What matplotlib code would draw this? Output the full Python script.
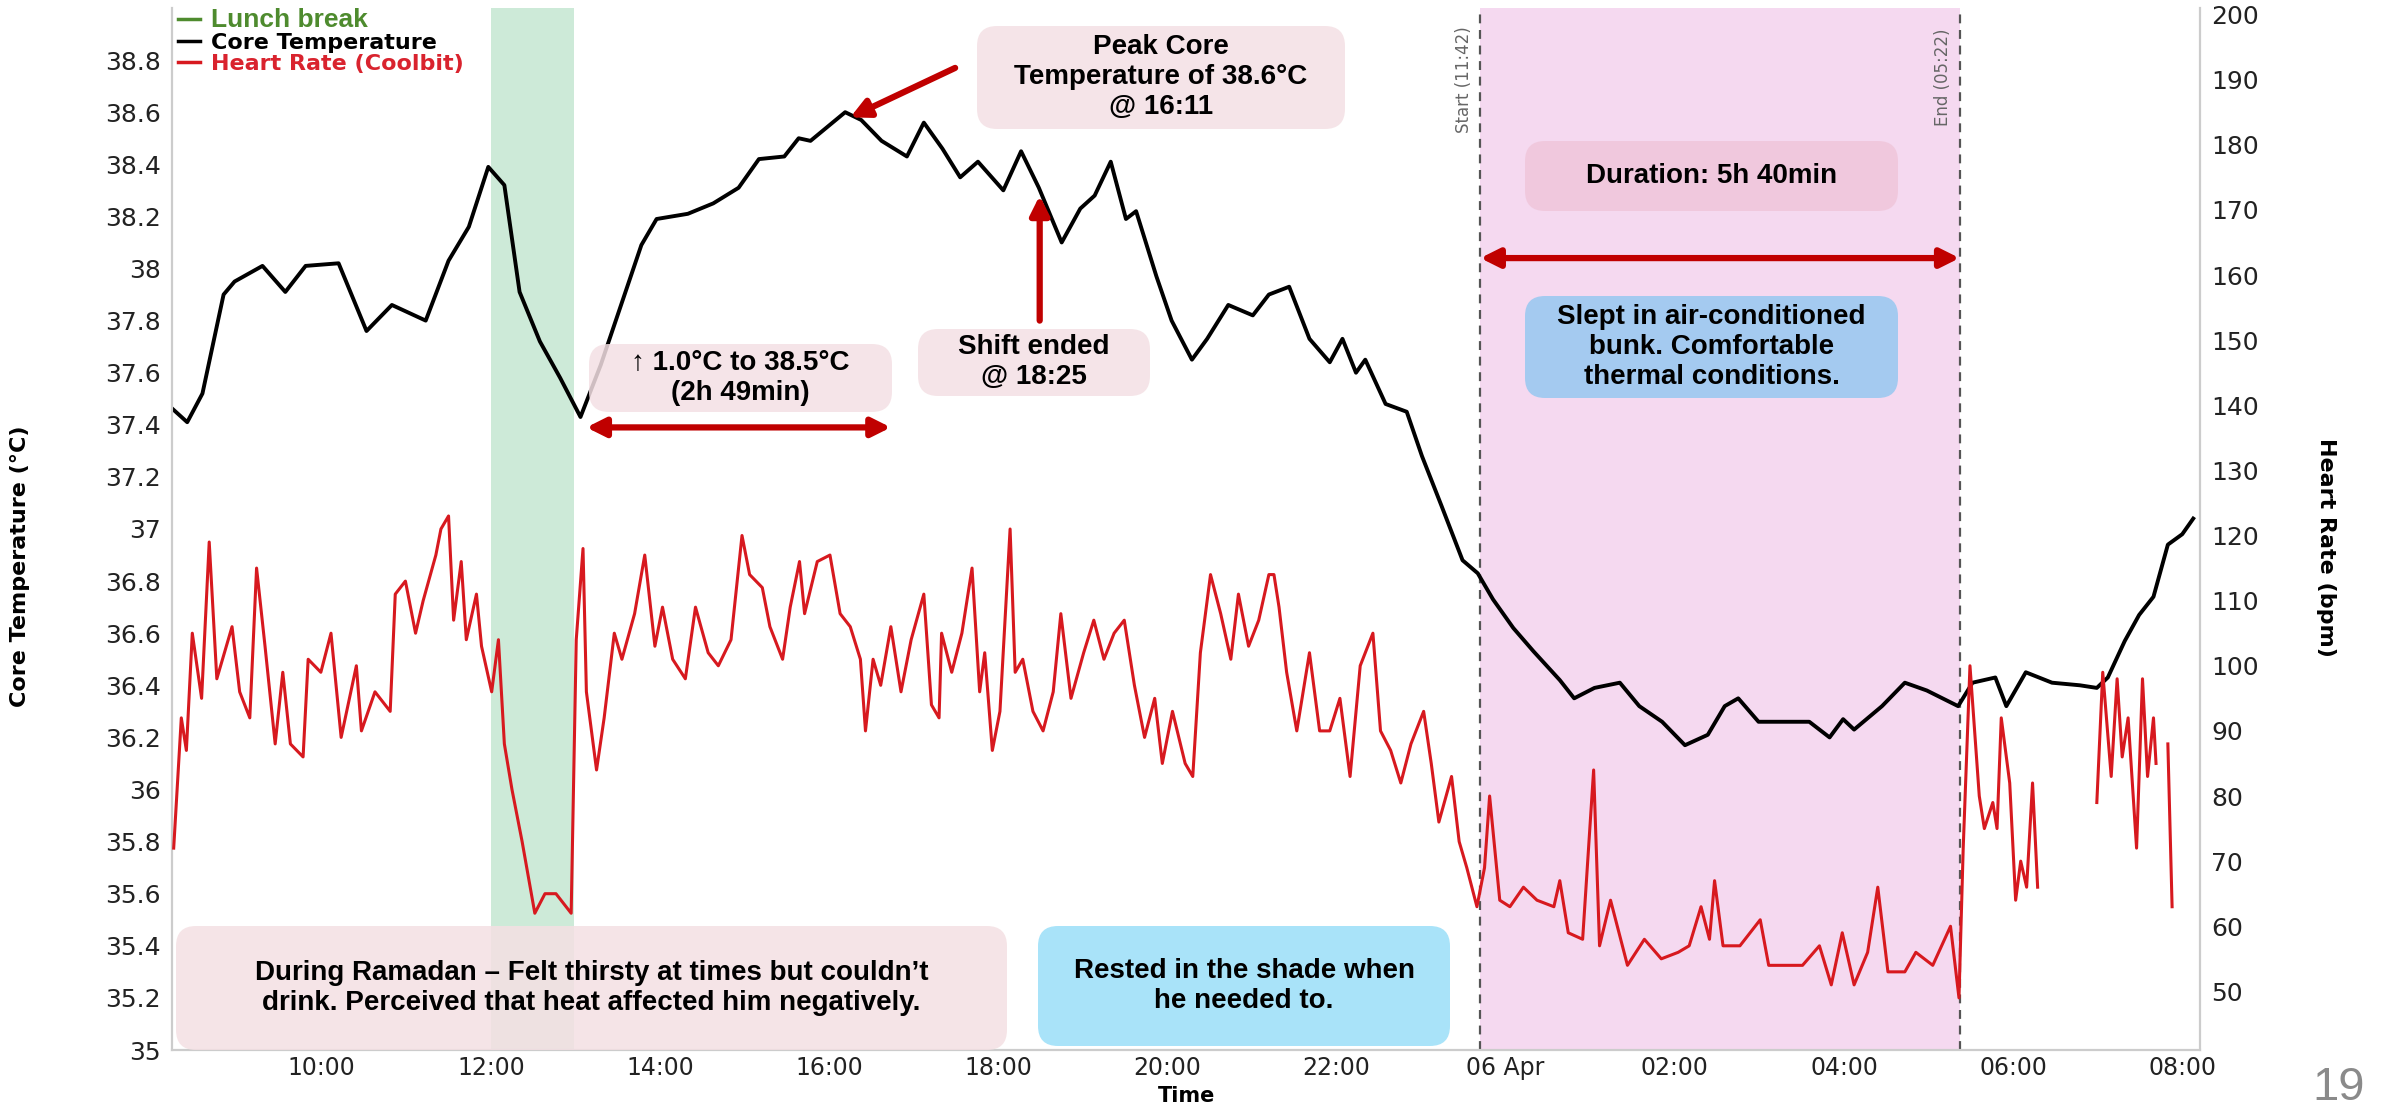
import matplotlib.pyplot as plt
import numpy as np
from matplotlib import font_manager
from matplotlib.lines import Line2D
from matplotlib.patches import FancyBboxPatch
from matplotlib.transforms import IdentityTransform

# ---- data (hours since midnight of 05 Apr; 24+ = 06 Apr) ----
core_t = [8.24, 8.41, 8.59, 8.84, 8.97, 9.30, 9.57, 9.81, 10.20, 10.53, 10.83, 11.23,
          11.50, 11.74, 11.97, 12.16, 12.34, 12.58, 12.82, 13.06, 13.30, 13.54, 13.78,
          13.96, 14.33, 14.63, 14.93, 15.17, 15.47, 15.64, 15.78, 16.19, 16.38, 16.62,
          16.92, 17.12, 17.34, 17.55, 17.76, 18.06, 18.27, 18.48, 18.75, 18.97, 19.14,
          19.33, 19.51, 19.63, 19.87, 20.05, 20.29, 20.47, 20.72, 21.01, 21.20, 21.44,
          21.68, 21.92, 22.07, 22.23, 22.34, 22.58, 22.83, 23.01, 23.24, 23.49, 23.67,
          23.85, 24.09, 24.33, 24.64, 24.81, 25.05, 25.35, 25.58, 25.85, 26.12, 26.39,
          26.59, 26.75, 26.99, 27.25, 27.59, 27.83, 27.99, 28.12, 28.45, 28.72, 28.98,
          29.35, 29.52, 29.79, 29.92, 30.15, 30.46, 30.79, 30.99, 31.12, 31.32, 31.49,
          31.66, 31.83, 32.00, 32.13]
core_temp = [37.46, 37.41, 37.52, 37.90, 37.95, 38.01, 37.91, 38.01, 38.02, 37.76, 37.86, 37.80,
             38.03, 38.16, 38.39, 38.32, 37.91, 37.72, 37.58, 37.43, 37.63, 37.86, 38.09,
             38.19, 38.21, 38.25, 38.31, 38.42, 38.43, 38.50, 38.49, 38.60, 38.57, 38.49,
             38.43, 38.56, 38.46, 38.35, 38.41, 38.30, 38.45, 38.31, 38.10, 38.23, 38.28,
             38.41, 38.19, 38.22, 37.97, 37.80, 37.65, 37.73, 37.86, 37.82, 37.90, 37.93,
             37.73, 37.64, 37.73, 37.60, 37.65, 37.48, 37.45, 37.28, 37.09, 36.88, 36.83,
             36.73, 36.62, 36.53, 36.42, 36.35, 36.39, 36.41, 36.32, 36.26, 36.17, 36.21,
             36.32, 36.35, 36.26, 36.26, 36.26, 36.20, 36.27, 36.23, 36.32, 36.41, 36.38,
             36.32, 36.41, 36.43, 36.32, 36.45, 36.41, 36.40, 36.39, 36.43, 36.57, 36.67,
             36.74, 36.94, 36.98, 37.04]

hr_t = [8.25, 8.29, 8.34, 8.40, 8.47, 8.58, 8.67, 8.76, 8.85, 8.94, 9.03, 9.15, 9.23, 9.33,
        9.45, 9.54, 9.63, 9.78, 9.84, 9.99, 10.11, 10.23, 10.41, 10.47, 10.63, 10.81, 10.87,
        10.99, 11.11, 11.20, 11.35, 11.41, 11.50, 11.56, 11.65, 11.71, 11.83, 11.89, 12.01,
        12.09, 12.16, 12.25, 12.37, 12.52, 12.64, 12.77, 12.95, 13.01, 13.09, 13.13, 13.25,
        13.34, 13.46, 13.55, 13.70, 13.82, 13.94, 14.03, 14.15, 14.30, 14.42, 14.57, 14.69,
        14.84, 14.97, 15.06, 15.21, 15.30, 15.45, 15.54, 15.65, 15.71, 15.86, 16.01, 16.13,
        16.25, 16.37, 16.43, 16.52, 16.61, 16.73, 16.85, 16.97, 17.12, 17.21, 17.30, 17.33,
        17.45, 17.57, 17.69, 17.78, 17.84, 17.93, 18.02, 18.14, 18.20, 18.29, 18.41, 18.53,
        18.65, 18.74, 18.86, 19.01, 19.13, 19.25, 19.37, 19.49, 19.61, 19.73, 19.85, 19.94,
        20.06, 20.21, 20.30, 20.39, 20.51, 20.63, 20.75, 20.84, 20.96, 21.08, 21.20, 21.26,
        21.32, 21.41, 21.53, 21.68, 21.80, 21.92, 22.04, 22.16, 22.28, 22.43, 22.52, 22.64,
        22.76, 22.88, 23.03, 23.12, 23.21, 23.36, 23.45, 23.54, 23.66, 23.75, 23.81, 23.93,
        24.05, 24.21, 24.37, 24.57, 24.64, 24.74, 24.91, 25.04, 25.11, 25.24, 25.44, 25.64,
        25.84, 26.04, 26.17, 26.31, 26.41, 26.47, 26.57, 26.77, 27.01, 27.11, 27.31, 27.51,
        27.71, 27.85, 27.98, 28.12, 28.28, 28.40, 28.52, 28.72, 28.85, 29.05, 29.26, 29.36,
        29.41, 29.49, 29.60, 29.66, 29.76, 29.81, 29.86, 29.96, 30.03, 30.09, 30.16, 30.23,
        30.29, 30.30, 30.98, 30.99, 31.06, 31.16, 31.23, 31.29, 31.36, 31.46, 31.53, 31.59,
        31.66, 31.69, 31.70, 31.82, 31.83, 31.88]
hr_bpm = [72, 81, 92, 87, 105, 95, 119, 98, 102, 106, 96, 92, 115, 103,
          88, 99, 88, 86, 101, 99, 105, 89, 100, 90, 96, 93, 111,
          113, 105, 110, 117, 121, 123, 107, 116, 104, 111, 103, 96,
          104, 88, 81, 73, 62, 65, 65, 62, 104, 118, 96, 84,
          92, 105, 101, 108, 117, 103, 109, 101, 98, 109, 102, 100,
          104, 120, 114, 112, 106, 101, 109, 116, 108, 116, 117, 108,
          106, 101, 90, 101, 97, 106, 96, 104, 111, 94, 92, 105,
          99, 105, 115, 96, 102, 87, 93, 121, 99, 101, 93, 90,
          96, 108, 95, 102, 107, 101, 105, 107, 97, 89, 95, 85,
          93, 85, 83, 102, 114, 108, 101, 111, 103, 107, 114, 114,
          109, 99, 90, 102, 90, 90, 95, 83, 100, 105, 90, 87,
          82, 88, 93, 85, 76, 83, 73, 69, 63, 69, 80, 64,
          63, 66, 64, 63, 67, 59, 58, 84, 57, 64, 54, 58,
          55, 56, 57, 63, 58, 67, 57, 57, 61, 54, 54, 54,
          57, 51, 59, 51, 56, 66, 53, 53, 56, 54, 60, 49,
          72, 100, 80, 75, 79, 75, 92, 82, 64, 70, 66, 82,
          66, np.nan, np.nan, 79, 99, 83, 98, 86, 92, 72, 98, 83,
          92, 85, np.nan, np.nan, 88, 63]

tick_hours = [10, 12, 14, 16, 18, 20, 22, 24, 26, 28, 30, 32]
tick_names = ["10:00", "12:00", "14:00", "16:00", "18:00", "20:00", "22:00",
              "06 Apr", "02:00", "04:00", "06:00", "08:00"]

lunch_start, lunch_end = 12.0, 12.98
sleep_start, sleep_end = 23.70, 29.367

# ---- fonts ----
names = {f.name for f in font_manager.fontManager.ttflist}
NARROW = "Liberation Sans Narrow" if "Liberation Sans Narrow" in names else "Liberation Sans"
plt.rcParams["font.family"] = ["DejaVu Sans"]

W, H = 2386, 1107
fig = plt.figure(figsize=(W / 100, H / 100), dpi=100)
ax = fig.add_axes([172 / W, 1 - 1050 / H, (2200 - 172) / W, (1050 - 8) / H])
ax2 = ax.twinx()

RED = "#D7191F"
DARKRED = "#C00000"

ax.axvspan(lunch_start, lunch_end, color="#CDEAD8", lw=0, zorder=0)
ax.axvspan(sleep_start, sleep_end, color="#F5D9F0", lw=0, zorder=0)
for xv in (sleep_start, sleep_end):
    ax.axvline(xv, color="#555555", lw=1.6, ls=(0, (4, 3)), zorder=1)

ax.plot(core_t, core_temp, color="black", lw=2.8, zorder=3)
ax2.plot(hr_t, hr_bpm, color=RED, lw=2.2, zorder=3)

ax.set_xlim(8.23, 32.21)
ax.set_ylim(35, 39)
ax2.set_ylim(41, 201)

ax.set_xticks(tick_hours)
ax.set_xticklabels(tick_names)
ax.set_yticks(np.arange(35, 38.81, 0.2))
ax.set_yticklabels([f"{round(v, 1):g}" for v in np.arange(35, 38.81, 0.2)])
ax2.set_yticks(range(50, 201, 10))

for a in (ax, ax2):
    a.tick_params(axis="y", length=0, labelsize=18, colors="#222222", pad=8)
    for s in a.spines.values():
        s.set_color("#CCCCCC")
        s.set_linewidth(1.5)
    a.spines["top"].set_visible(False)
ax.tick_params(axis="x", length=0, labelsize=17, colors="#222222", pad=4)

ax.set_ylabel("Core Temperature (°C)", fontsize=16, fontweight="bold")
ax.yaxis.set_label_coords(-0.070, 0.464)
ax2.set_ylabel("Heart Rate (bpm)", fontsize=16, fontweight="bold", rotation=270)
ax2.yaxis.set_label_coords(1.067, 0.482)
fig.text(1187 / W, 1 - 1102 / H, "Time", ha="center", va="baseline",
         fontsize=15, fontweight="bold")

# legend
handles = [Line2D([], [], color="#4E8B2E", lw=2.5),
           Line2D([], [], color="black", lw=2.5),
           Line2D([], [], color=RED, lw=2.5)]
leg = ax2.legend(handles, ["Lunch break", "Core Temperature", "Heart Rate (Coolbit)"],
                 loc="upper left", bbox_to_anchor=(0.003, 1.0), frameon=False,
                 prop={"size": 16, "weight": "bold"}, handlelength=1.0,
                 handletextpad=0.5, labelspacing=0.05, borderaxespad=0, borderpad=0,
                 labelcolor=["#4E8B2E", "black", "#D9232E"])
leg.get_texts()[0].set_fontsize(19)
leg.get_texts()[0].set_family(NARROW)


# ---- annotation boxes (figure pixels, top-left origin) ----
def note(x0, y0, x1, y1, text, fc, size=20):
    box = FancyBboxPatch((x0, H - y1), x1 - x0, y1 - y0,
                         boxstyle="round,pad=0,rounding_size=20",
                         transform=IdentityTransform(), fc=fc, ec="none", alpha=0.85, zorder=5)
    fig.add_artist(box)
    fig.text((x0 + x1) / 2 / W, 1 - (y0 + y1) / 2 / H, text, ha="center", va="center",
             fontsize=size, fontweight="bold", family=[NARROW, "DejaVu Sans"],
             linespacing=1.2, zorder=6)


note(977, 26, 1345, 129, "Peak Core\nTemperature of 38.6°C\n@ 16:11", "#F4E0E4")
note(589, 344, 892, 412, "↑ 1.0°C to 38.5°C\n(2h 49min)", "#F4E0E4")
note(918, 329, 1150, 396, "Shift ended\n@ 18:25", "#F4E0E4")
note(1525, 141, 1898, 211, "Duration: 5h 40min", "#F0C6DA")
note(1525, 296, 1898, 398, "Slept in air-conditioned\nbunk. Comfortable\nthermal conditions.",
     "#96C8F0")
note(176, 926, 1007, 1050,
     "During Ramadan – Felt thirsty at times but couldn’t\ndrink. Perceived that heat affected him negatively.",
     "#F4E0E3")
note(1038, 926, 1450, 1046, "Rested in the shade when\nhe needed to.", "#9ADFF8")

arrow = dict(color=DARKRED, lw=4.5, mutation_scale=28, shrinkA=0, shrinkB=0)
ax.annotate("", xy=(16.25, 38.58), xytext=(17.49, 38.77),
            arrowprops=dict(arrowstyle="-|>", **arrow), zorder=7)
ax.annotate("", xy=(13.13, 37.39), xytext=(16.73, 37.39),
            arrowprops=dict(arrowstyle="<|-|>", **arrow), zorder=7)
ax.annotate("", xy=(18.49, 38.28), xytext=(18.49, 37.80),
            arrowprops=dict(arrowstyle="-|>", **arrow), zorder=7)
ax.annotate("", xy=(sleep_start, 38.04), xytext=(sleep_end, 38.04),
            arrowprops=dict(arrowstyle="<|-|>", **arrow), zorder=7)

fig.text(1464 / W, 1 - 80 / H, "Start (11:42)", rotation=90, ha="center", va="center",
         fontsize=12, color="#666666")
fig.text(1943 / W, 1 - 77 / H, "End (05:22)", rotation=90, ha="center", va="center",
         fontsize=12, color="#666666")
fig.text(2339 / W, 1 - 1088 / H, "19", ha="center", va="center", fontsize=34,
         color="#8A8A8A", family=[NARROW, "DejaVu Sans"])

fig.savefig("out.png", dpi=100)
